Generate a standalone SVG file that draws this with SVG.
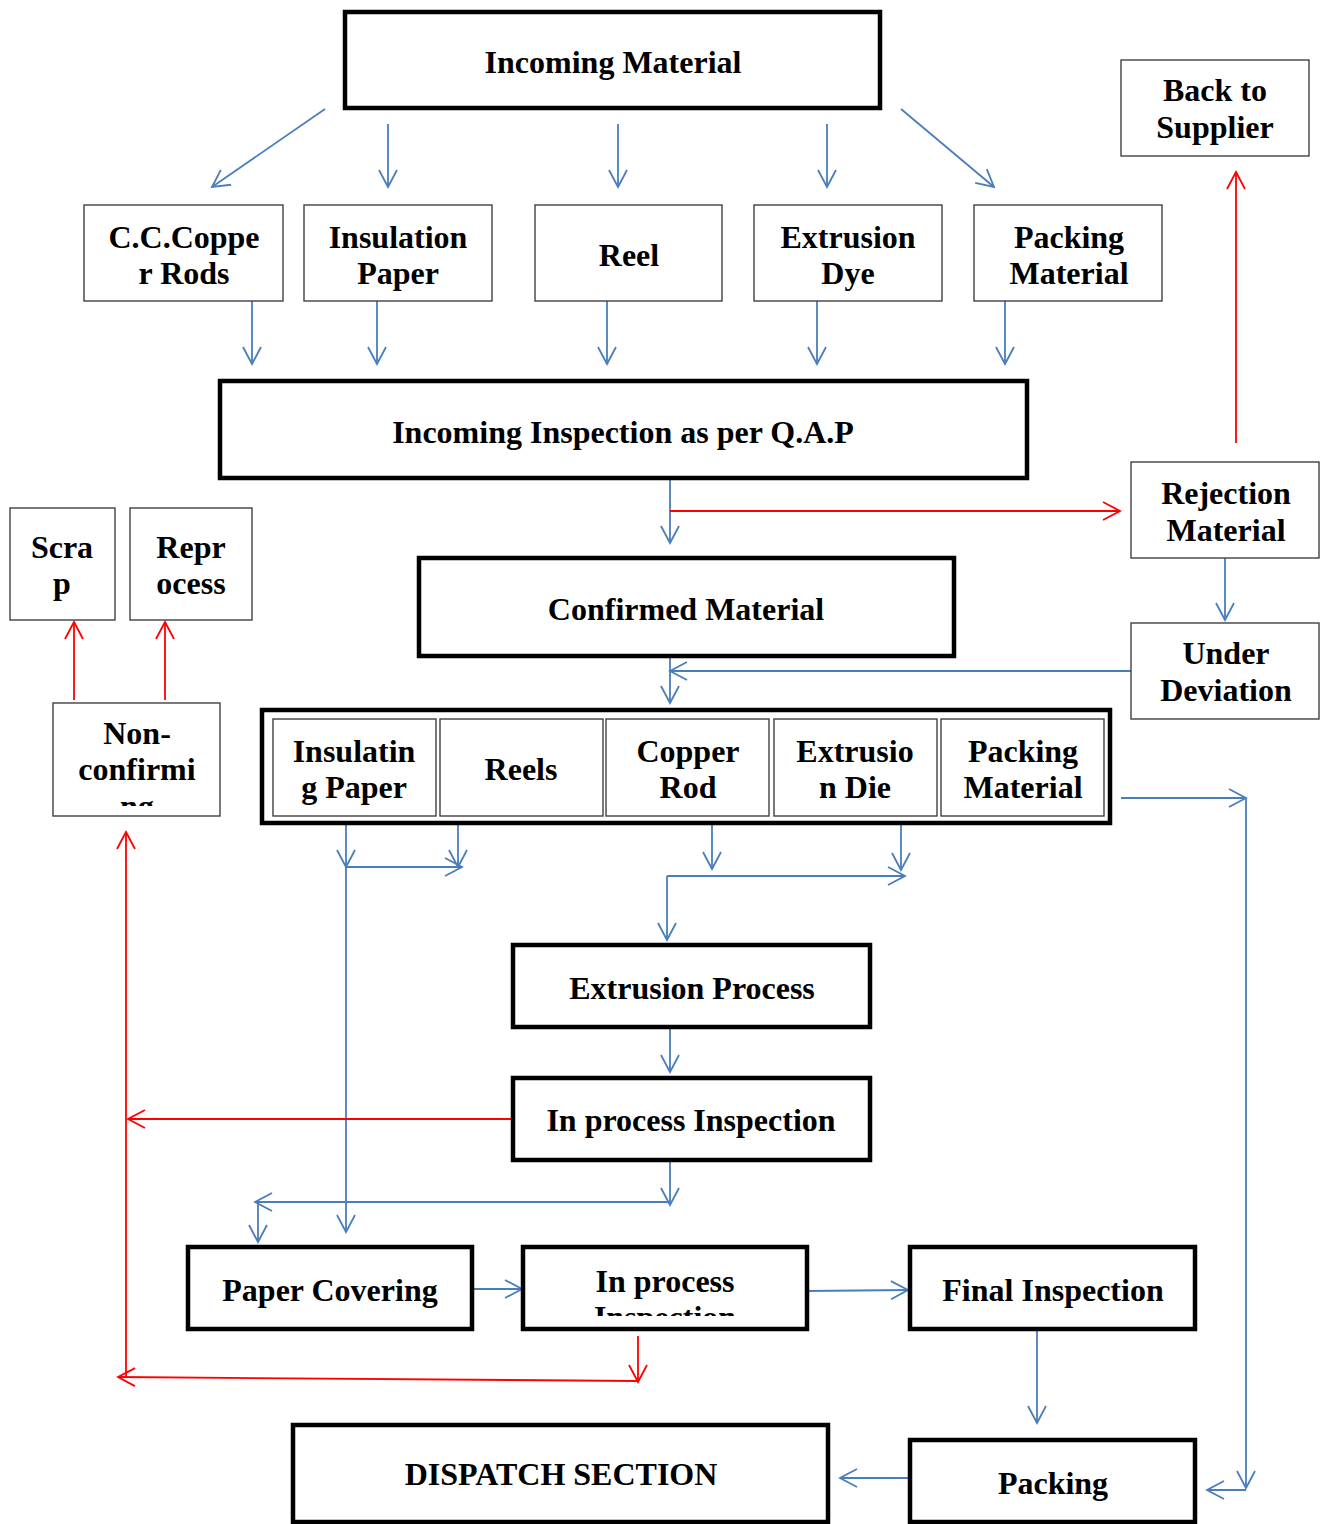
<svg xmlns="http://www.w3.org/2000/svg" width="1331" height="1524" viewBox="0 0 1331 1524">
<style>
text{font-family:"Liberation Serif","Times New Roman",serif;font-weight:bold;font-size:32px;text-anchor:middle;fill:#000}
.thick{fill:#fff;stroke:#000;stroke-width:4.5}
.thin{fill:#fff;stroke:#404040;stroke-width:1.4}
.b{fill:none;stroke:#4a7ebb;stroke-width:1.8;marker-end:url(#ab)}
.bl{fill:none;stroke:#4a7ebb;stroke-width:1.8}
.r{fill:none;stroke:#ff0000;stroke-width:1.8;marker-end:url(#ar)}
.rl{fill:none;stroke:#ff0000;stroke-width:1.8}
</style>
<defs>
<marker id="ab" markerUnits="userSpaceOnUse" viewBox="-20 -12 22 24" refX="0" refY="0" markerWidth="22" markerHeight="24" orient="auto" overflow="visible"><path d="M-17,-9 L0,0 L-17,9" fill="none" stroke="#4a7ebb" stroke-width="1.8"/></marker>
<marker id="ar" markerUnits="userSpaceOnUse" viewBox="-20 -12 22 24" refX="0" refY="0" markerWidth="22" markerHeight="24" orient="auto" overflow="visible"><path d="M-17,-9 L0,0 L-17,9" fill="none" stroke="#ff0000" stroke-width="1.8"/></marker>
<clipPath id="cNC"><rect x="53" y="703" width="168" height="103"/></clipPath>
<clipPath id="cIP"><rect x="523" y="1247" width="285" height="69"/></clipPath>
</defs>
<rect width="1331" height="1524" fill="#fff"/>

<g id="connectors">
<line class="b" x1="325" y1="109" x2="212" y2="187"/>
<line class="b" x1="388" y1="124" x2="388" y2="187"/>
<line class="b" x1="618" y1="124" x2="618" y2="187"/>
<line class="b" x1="827" y1="124" x2="827" y2="187"/>
<line class="b" x1="901" y1="109" x2="994" y2="187"/>
<line class="b" x1="252" y1="301" x2="252" y2="364"/>
<line class="b" x1="377" y1="301" x2="377" y2="364"/>
<line class="b" x1="607" y1="301" x2="607" y2="364"/>
<line class="b" x1="817" y1="301" x2="817" y2="364"/>
<line class="b" x1="1005" y1="301" x2="1005" y2="364"/>
<line class="b" x1="670" y1="480" x2="670" y2="543"/>
<line class="r" x1="670" y1="511" x2="1120" y2="511"/>
<line class="r" x1="1236" y1="443" x2="1236" y2="172"/>
<line class="b" x1="1225" y1="558" x2="1225" y2="620"/>
<line class="b" x1="1131" y1="671" x2="670" y2="671"/>
<line class="b" x1="670" y1="656" x2="670" y2="703"/>
<line class="r" x1="74" y1="700" x2="74" y2="622"/>
<line class="r" x1="165" y1="700" x2="165" y2="622"/>
<line class="b" x1="346" y1="810" x2="346" y2="867"/>
<line class="b" x1="346" y1="867" x2="346" y2="1232"/>
<line class="b" x1="346" y1="867" x2="462" y2="867"/>
<line class="b" x1="458" y1="805" x2="458" y2="867"/>
<line class="b" x1="712" y1="808" x2="712" y2="869"/>
<line class="b" x1="901" y1="808" x2="901" y2="870"/>
<line class="b" x1="667" y1="876" x2="905" y2="876"/>
<line class="b" x1="667" y1="876" x2="667" y2="940"/>
<line class="b" x1="670" y1="1027" x2="670" y2="1072"/>
<line class="r" x1="513" y1="1119" x2="128" y2="1119"/>
<line class="r" x1="126" y1="1378" x2="126" y2="832"/>
<line class="b" x1="670" y1="1160" x2="670" y2="1205"/>
<line class="b" x1="670" y1="1202" x2="255" y2="1202"/>
<line class="b" x1="258" y1="1202" x2="258" y2="1242"/>
<line class="b" x1="472" y1="1289" x2="522" y2="1289"/>
<line class="b" x1="807" y1="1291" x2="908" y2="1290"/>
<line class="b" x1="1037" y1="1329" x2="1037" y2="1423"/>
<line class="b" x1="910" y1="1478" x2="840" y2="1478"/>
<line class="r" x1="638" y1="1336" x2="638" y2="1382"/>
<line class="r" x1="638" y1="1381" x2="118" y2="1377"/>
<line class="b" x1="1121" y1="798" x2="1246" y2="798"/>
<line class="b" x1="1246" y1="798" x2="1246" y2="1488"/>
<line class="b" x1="1246" y1="1490" x2="1207" y2="1490"/>
</g>

<g id="incoming-material"><rect class="thick" x="345" y="12" width="535" height="96"/><text x="613" y="73">Incoming Material</text></g>
<g id="cc-copper-rods"><rect class="thin" x="84" y="205" width="199" height="96"/><text x="184" y="248">C.C.Coppe</text><text x="184" y="284">r Rods</text></g>
<g id="insulation-paper"><rect class="thin" x="304" y="205" width="188" height="96"/><text x="398" y="248">Insulation</text><text x="398" y="284">Paper</text></g>
<g id="reel"><rect class="thin" x="535" y="205" width="187" height="96"/><text x="629" y="266">Reel</text></g>
<g id="extrusion-dye"><rect class="thin" x="754" y="205" width="188" height="96"/><text x="848" y="248">Extrusion</text><text x="848" y="284">Dye</text></g>
<g id="packing-material-1"><rect class="thin" x="974" y="205" width="188" height="96"/><text x="1069" y="248">Packing</text><text x="1069" y="284">Material</text></g>
<g id="back-to-supplier"><rect class="thin" x="1121" y="60" width="188" height="96"/><text x="1215" y="101">Back to</text><text x="1215" y="138">Supplier</text></g>
<g id="incoming-inspection"><rect class="thick" x="220" y="381" width="807" height="97"/><text x="623" y="443">Incoming Inspection as per Q.A.P</text></g>
<g id="rejection-material"><rect class="thin" x="1131" y="462" width="188" height="96"/><text x="1226" y="504">Rejection</text><text x="1226" y="541">Material</text></g>
<g id="under-deviation"><rect class="thin" x="1131" y="623" width="188" height="96"/><text x="1226" y="664">Under</text><text x="1226" y="701">Deviation</text></g>
<g id="confirmed-material"><rect class="thick" x="419" y="558" width="535" height="98"/><text x="686" y="620">Confirmed Material</text></g>
<g id="scrap"><rect class="thin" x="10" y="508" width="105" height="112"/><text x="62" y="558">Scra</text><text x="62" y="594">p</text></g>
<g id="reprocess"><rect class="thin" x="130" y="508" width="122" height="112"/><text x="191" y="558">Repr</text><text x="191" y="594">ocess</text></g>
<g id="non-confirming"><rect class="thin" x="53" y="703" width="167" height="113"/><g clip-path="url(#cNC)"><text x="137" y="744">Non-</text><text x="137" y="780">confirmi</text><text x="137" y="817">ng</text></g></g>
<g id="materials-row"><rect class="thick" x="262" y="710" width="848" height="113"/>
<g id="insulating-paper"><rect class="thin" x="273" y="719" width="163" height="97"/><text x="354" y="762">Insulatin</text><text x="354" y="798">g Paper</text></g>
<g id="reels"><rect class="thin" x="440" y="719" width="163" height="97"/><text x="521" y="780">Reels</text></g>
<g id="copper-rod"><rect class="thin" x="606" y="719" width="163" height="97"/><text x="688" y="762">Copper</text><text x="688" y="798">Rod</text></g>
<g id="extrusion-die"><rect class="thin" x="774" y="719" width="163" height="97"/><text x="855" y="762">Extrusio</text><text x="855" y="798">n Die</text></g>
<g id="packing-material-2"><rect class="thin" x="941" y="719" width="163" height="97"/><text x="1023" y="762">Packing</text><text x="1023" y="798">Material</text></g>
</g>
<g id="extrusion-process"><rect class="thick" x="513" y="945" width="357" height="82"/><text x="692" y="999">Extrusion Process</text></g>
<g id="in-process-inspection-1"><rect class="thick" x="513" y="1078" width="357" height="82"/><text x="691" y="1131">In process Inspection</text></g>
<g id="paper-covering"><rect class="thick" x="188" y="1247" width="284" height="82"/><text x="330" y="1301">Paper Covering</text></g>
<g id="in-process-inspection-2"><rect class="thick" x="523" y="1247" width="284" height="82"/><g clip-path="url(#cIP)"><text x="665" y="1292">In process</text><text x="665" y="1328">Inspection</text></g></g>
<g id="final-inspection"><rect class="thick" x="910" y="1247" width="285" height="82"/><text x="1053" y="1301">Final Inspection</text></g>
<g id="packing"><rect class="thick" x="910" y="1440" width="285" height="82"/><text x="1053" y="1494">Packing</text></g>
<g id="dispatch-section"><rect class="thick" x="293" y="1425" width="535" height="97"/><text x="561" y="1485">DISPATCH SECTION</text></g>
</svg>
